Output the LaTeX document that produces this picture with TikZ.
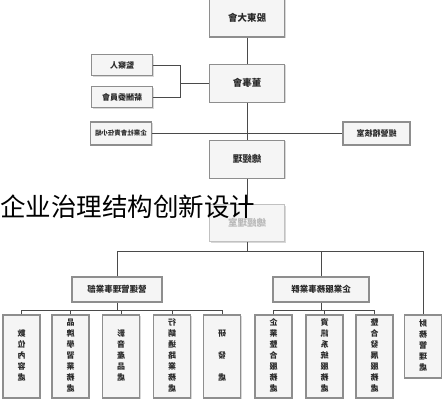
\documentclass[tikz,border=0pt]{standalone}
\usepackage{fontspec}
\setmainfont{Noto Sans CJK TC}
\newfontfamily\captionfont{Noto Sans CJK SC}
\usepackage{graphicx}
\usepackage{xcolor}
\usetikzlibrary{positioning,shadows}
\definecolor{orgedge}{HTML}{8E8E8E}
\definecolor{orgfill}{HTML}{F5F5F5}
\definecolor{orgline}{HTML}{4A4A4A}
\definecolor{orgtext}{HTML}{2A2A2A}
% the source picture is mirrored left to right
\newcommand{\mirrortext}[1]{\scalebox{-1}[1]{#1}}
\newcommand{\vstack}[1]{\mirrortext{\begin{tabular}{@{}c@{}}#1\end{tabular}}}
\tikzset{
  orgbox/.style={
    draw=orgedge,
    fill=orgfill,
    line width=1.1pt,
    text=orgtext,
    inner sep=0pt,
    align=center,
    drop shadow={shadow xshift=1.2pt,shadow yshift=-1.2pt,fill=black!30}
  },
  headbox/.style={
    orgbox,
    minimum width=75pt,
    minimum height=38pt,
    font=\fontsize{9.5}{11}\selectfont\bfseries
  },
  sidebox/.style={
    orgbox,
    minimum width=61pt,
    minimum height=21pt,
    font=\fontsize{8}{9}\selectfont\bfseries
  },
  divbox/.style={
    orgbox,
    minimum height=25pt,
    font=\fontsize{8.5}{10}\selectfont\bfseries
  },
  unitbox/.style={
    orgbox,
    minimum width=37pt,
    minimum height=83pt,
    font=\fontsize{8}{11}\selectfont\bfseries
  },
  link/.style={
    draw=orgline,
    line width=0.9pt
  }
}

\begin{document}
\begin{tikzpicture}[x=1pt,y=-1pt]
\useasboundingbox (0,0) rectangle (442,400);
% top of the chart
\node[headbox] (shareholders) at (247,18) {\mirrortext{股東大會}};
\node[headbox, below=26pt of shareholders] (board) {\mirrortext{董事會}};
\node[headbox, below=37pt of board] (ceo) {\mirrortext{總經理}};
\node[headbox, below=25pt of ceo, draw=orgedge!55, text=gray!55, minimum height=37pt] (ceooffice) {\mirrortext{總經理室}};
\node[sidebox] (supervisor) at (122,65) {\mirrortext{監察人}};
\node[sidebox] (paycommittee) at (122,97) {\mirrortext{薪酬委員會}};
\node[sidebox, minimum height=23pt, font=\fontsize{6.5}{8}\selectfont\bfseries] (csrgroup) at (121,133.5) {\mirrortext{企業社會責任小組}};
\node[sidebox, minimum width=67pt, minimum height=23pt] (auditoffice) at (376.5,133.5) {\mirrortext{經營稽核室}};
% divisions
\node[divbox, minimum width=90pt] (opsdiv) at (117,289.5) {\mirrortext{營運管理事業部}};
\node[divbox, minimum width=96pt] (servdiv) at (321,289.5) {\mirrortext{企業服務事業群}};
% units
\node[unitbox] (digital) at (21.5,356.5) {\vstack{數\\位\\內\\容\\處}};
\node[unitbox] (brand) at (70.5,356.5) {\vstack{品\\牌\\學\\習\\業\\務\\處}};
\node[unitbox] (media) at (121,356.5) {\vstack{影\\音\\產\\品\\處}};
\node[unitbox] (marketing) at (172,356.5) {\vstack{行\\銷\\通\\路\\業\\務\\處}};
\node[unitbox] (rnd) at (222,356.5) {\vstack{研\\[11pt]發\\[11pt]處}};
\node[unitbox] (integration) at (273.5,356.5) {\vstack{企\\業\\整\\合\\服\\務\\處}};
\node[unitbox] (infosys) at (324.5,356.5) {\vstack{資\\訊\\系\\統\\服\\務\\處}};
\node[unitbox] (development) at (374.5,356.5) {\vstack{整\\合\\發\\展\\服\\務\\處}};
\node[unitbox, minimum height=63pt] (finance) at (423,346.5) {\vstack{財\\務\\管\\理\\處}};

\draw[link] (shareholders) -- (board);
\draw[link] (board) -- (ceo);
\draw[link] (ceo) -- (ceooffice);
\draw[link] (supervisor.east) -- ++(27,0) |- (board.west);
\draw[link] (paycommittee.east) -- ++(27,0) |- (board.west);
\draw[link] (csrgroup.east) -- (auditoffice.west);
\draw[link] (ceooffice.south) -- ++(0,10) coordinate (hub);
\draw[link] (opsdiv.north) |- (hub);
\draw[link] (servdiv.north) |- (hub);
\draw[link] (finance.north) |- (hub);
\draw[link] (opsdiv.south) -- ++(0,8) coordinate (lefthub);
\foreach \unit in {digital,brand,media,marketing,rnd}
  \draw[link] (\unit.north) |- (lefthub);
\draw[link] (servdiv.south) -- ++(0,8) coordinate (righthub);
\foreach \unit in {integration,infosys,development}
  \draw[link] (\unit.north) |- (righthub);

\node[anchor=west, inner sep=0pt, font=\captionfont\fontsize{25.5}{26}\selectfont] (caption) at (0,207) {企业治理结构创新设计};
\end{tikzpicture}
\end{document}
